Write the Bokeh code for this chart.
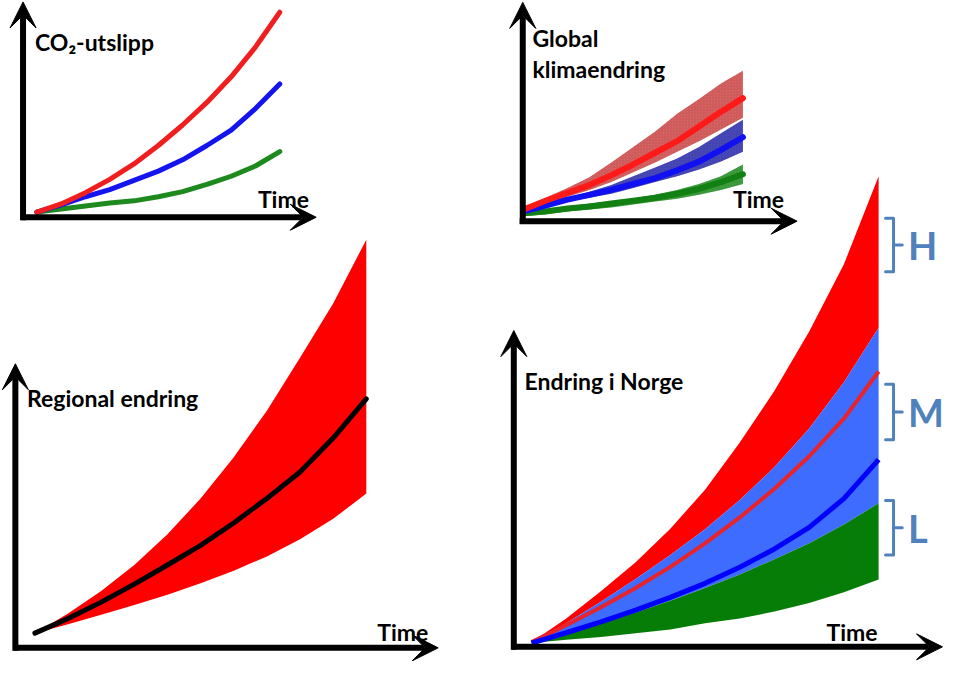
from bokeh.plotting import figure
from bokeh.models import Range1d, Arrow, VeeHead
from bokeh.core.properties import value
from bokeh.embed import file_html
from bokeh.resources import INLINE

# ---------------- data (schematic, arbitrary units) ----------------
years = [2000, 2010, 2020, 2030, 2040, 2050, 2060, 2070, 2080, 2090, 2100]

# Panel 1: CO2-utslipp (three emission scenarios)
co2_high = [2.5, 6.5, 12, 18.5, 26, 35, 45, 56, 68.5, 83, 100]
co2_mid = [2.5, 6, 10, 13.5, 18, 22.5, 28, 35, 42.5, 53, 65]
co2_low = [2.5, 4, 5.5, 7, 8, 10, 12.5, 16, 20, 25, 32]

# Panel 2: Global klimaendring (central line + uncertainty band per scenario)
glob_high_upper = [8.4, 15.6, 22.1, 29.2, 39.0, 49.4, 59.7, 71.4, 81.2, 91.6, 100]
glob_high_mid = [7.8, 13.6, 18.8, 24.0, 30.5, 37.7, 45.5, 53.2, 63.0, 72.7, 81.8]
glob_high_lower = [7.1, 11.7, 16.2, 20.8, 26.0, 32.5, 39.0, 46.1, 53.2, 61.0, 68.8]
glob_mid_upper = [7.1, 11.0, 15.6, 19.5, 24.0, 29.9, 35.7, 41.6, 49.4, 58.4, 67.5]
glob_mid_mid = [6.5, 10.4, 14.3, 17.5, 20.8, 24.7, 28.6, 33.8, 39.6, 47.4, 55.8]
glob_mid_lower = [5.8, 9.7, 13.0, 15.6, 18.2, 22.1, 26.0, 29.9, 34.4, 39.6, 46.1]
glob_low_upper = [6.5, 7.8, 9.7, 11.7, 13.0, 14.9, 17.5, 20.8, 24.7, 29.9, 37.7]
glob_low_mid = [5.2, 6.5, 8.4, 9.7, 11.7, 13.6, 15.6, 18.2, 21.4, 26.0, 31.2]
glob_low_lower = [3.2, 4.5, 6.5, 7.8, 9.1, 11.0, 13.0, 14.9, 17.5, 20.8, 24.7]

# Panel 3: Regional endring
reg_upper = [3.6, 8.4, 13.9, 20.3, 27.8, 36.6, 46.7, 58.1, 71.1, 84.4, 100]
reg_mid = [3.6, 7.2, 11.2, 15.6, 20.3, 25.1, 30.6, 36.6, 43.1, 51.4, 61.0]
reg_lower = [3.6, 5.8, 8.1, 10.5, 13.0, 15.8, 18.9, 22.4, 26.6, 31.6, 37.8]

# Panel 4: Endring i Norge (H / M / L)
nor_high_upper = [1.0, 6.0, 11.8, 18.0, 25.1, 33.4, 43.4, 54.4, 67.0, 81.3, 100]
nor_mid_upper = [1.0, 5.0, 9.6, 14.4, 19.5, 25.0, 31.2, 38.2, 46.4, 56.2, 67.8]
nor_high_mid = [1.0, 4.6, 8.4, 12.5, 17.0, 22.0, 27.5, 33.6, 40.5, 48.5, 58.5]
nor_mid_mid = [0.8, 3.0, 5.3, 7.8, 10.5, 13.5, 16.9, 20.8, 25.4, 31.5, 39.8]
nor_low_upper = [0.8, 2.8, 5.0, 7.3, 9.8, 12.5, 15.4, 18.6, 22.0, 26.0, 30.5]
nor_low_lower = [0.8, 1.5, 2.1, 2.9, 3.7, 5.0, 6.0, 7.5, 9.3, 11.6, 14.3]

# bracket ranges (value units of panel 4) and letters
bracket_labels = ["H", "M", "L"]
bracket_top = [91.1, 55.8, 31.1]
bracket_bottom = [79.7, 44.0, 19.5]

# ---------------- layout ----------------
REF_W, REF_H = 960, 677
W, H = 944, 661

# where each small panel sits on the canvas (reference pixels)
PANELS = {
    "co2": dict(x2000=37, x2100=284, y0=222, ppu=2.1),
    "glob": dict(x2000=532, x2100=755, y0=226, ppu=1.54),
    "reg": dict(x2000=35, x2100=372, y0=663, ppu=4.18),
    "nor": dict(x2000=540, x2100=893, y0=662, ppu=4.82),
}

p = figure(width=W, height=H, title=None,
           x_range=Range1d(0, REF_W), y_range=Range1d(REF_H, 0),
           x_axis_type=None, y_axis_type=None,
           toolbar_location=None, output_backend="svg",
           min_border=0, outline_line_color=None,
           background_fill_color="white", border_fill_color="white")

xr, yr = {}, {}
for name, g in PANELS.items():
    per_year = (g["x2100"] - g["x2000"]) / 100.0
    xr[name] = Range1d(2000 + (0 - g["x2000"]) / per_year,
                       2000 + (REF_W - g["x2000"]) / per_year)
    yr[name] = Range1d((g["y0"] - REF_H) / g["ppu"], g["y0"] / g["ppu"])
p.extra_x_ranges = xr
p.extra_y_ranges = yr


def rn(name):
    return dict(x_range_name=name, y_range_name=name)


def axes(name, x_axis, y_bottom, y_top, x_left, x_right):
    for xs, ys, xe, ye in [(x_axis, y_bottom, x_axis, y_top),
                           (x_left, 0, x_right, 0)]:
        p.add_layout(Arrow(x_start=xs, y_start=ys, x_end=xe, y_end=ye,
                           line_color="black", line_width=6,
                           end=VeeHead(size=26, fill_color="black",
                                       line_color="black", line_width=1),
                           **rn(name)))


FONT = value("Lato")


def label(name, x, y, txt, size="23px", color="black"):
    p.text(x=[x], y=[y], text=[txt], text_font=FONT, text_font_style="bold",
           text_font_size=size, text_color=color, text_align="left",
           text_baseline="middle", **rn(name))


# ---- Panel 1: CO2-utslipp ----
for ys, col in [(co2_low, "#1e8a1e"), (co2_mid, "#1414ee"), (co2_high, "#f01e1e")]:
    p.line(years, ys, line_color=col, line_width=5, line_cap="round",
           line_join="round", **rn("co2"))
axes("co2", 1994.3, -1.5, 105, 1993.5, 2115)
label("co2", 1999.2, 85.7, "CO₂-utslipp")
label("co2", 2091, 9.0, "Time")

# ---- Panel 2: Global klimaendring ----
bands2 = [
    (glob_high_lower, glob_high_upper, "#d66868", "#b53030"),
    (glob_mid_lower, glob_mid_upper, "#4c4cbc", "#26268e"),
    (glob_low_lower, glob_low_upper, "#42a242", "#1c701c"),
]
for lo, hi, fc, hc in bands2:
    p.varea(x=years, y1=lo, y2=hi, fill_color=fc, fill_alpha=1.0,
            hatch_pattern="right_diagonal_line", hatch_color=hc,
            hatch_scale=3, hatch_weight=1, hatch_alpha=0.35, **rn("glob"))
for ys, col in [(glob_low_mid, "#128012"), (glob_mid_mid, "#1010f0"), (glob_high_mid, "#ff1a1a")]:
    p.line(years, ys, line_color=col, line_width=6, line_cap="round",
           line_join="round", **rn("glob"))
axes("glob", 1999.6, -1.9, 145.5, 1998.2, 2124.7)
label("glob", 2004, 122, "Global")
label("glob", 2004, 101.3, "klimaendring")
label("glob", 2095.5, 14.9, "Time")

# ---- Panel 3: Regional endring ----
p.varea(x=years, y1=reg_lower, y2=reg_upper, fill_color="#ff0000", **rn("reg"))
p.line(years, reg_mid, line_color="black", line_width=5, line_cap="round",
       line_join="round", **rn("reg"))
axes("reg", 1994.1, -0.7, 69.6, 1993.5, 2121.7)
label("reg", 1997.6, 61.2, "Regional endring")
label("reg", 2103.3, 3.8, "Time")

# ---- Panel 4: Endring i Norge ----
p.varea(x=years, y1=nor_mid_upper, y2=nor_high_upper, fill_color="#ff0000", **rn("nor"))
p.varea(x=years, y1=nor_low_upper, y2=nor_mid_upper, fill_color="#3d6cff", **rn("nor"))
p.varea(x=years, y1=nor_low_lower, y2=nor_low_upper, fill_color="#067d06", **rn("nor"))
p.line(years, nor_high_mid, line_color="#e8242a", line_width=4, line_join="round", **rn("nor"))
p.line(years, nor_mid_mid, line_color="#0000ff", line_width=5, line_join="round", **rn("nor"))
axes("nor", 1994.9, -0.6, 67.2, 1994.3, 2118.4)
label("nor", 1998, 56.4, "Endring i Norge")
label("nor", 2085, 3.1, "Time")

BR = "#4f81bd"
xs, ys = [], []
for top, bot in zip(bracket_top, bracket_bottom):
    mid = (top + bot) / 2
    xs += [[2102, 2104.3, 2104.3, 2102], [2104.3, 2106.8]]
    ys += [[top, top, bot, bot], [mid, mid]]
p.multi_line(xs, ys, line_color=BR, line_width=3, line_join="round", line_cap="round", **rn("nor"))
for lab, top, bot in zip(bracket_labels, bracket_top, bracket_bottom):
    label("nor", 2108.5, (top + bot) / 2, lab, size="38px", color=BR)

open("out.html", "w").write(file_html(p, INLINE))
